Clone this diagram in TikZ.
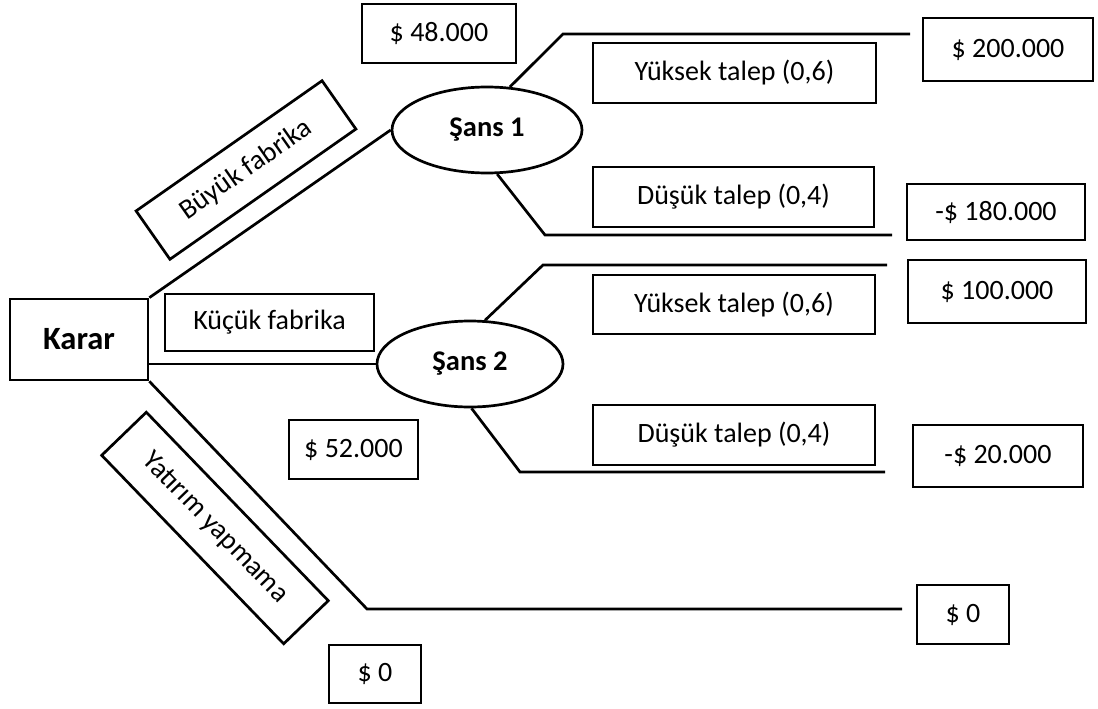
\documentclass[tikz,border=0pt]{standalone}
\usepackage{fontspec}
\setmainfont{Carlito}
\usetikzlibrary{shapes.geometric}
\begin{document}
\begin{tikzpicture}[x=1pt,y=-1pt,
  line width=2.7pt,
  lbl/.style={draw, rectangle, inner sep=0pt, align=center,
    font=\fontsize{28}{33}\selectfont},
  chance/.style={draw, ellipse, inner sep=0pt,
    font=\fontsize{28.5}{33}\selectfont\bfseries},
  branch/.style={line width=2.7pt}]
\useasboundingbox (0,0) rectangle (1098,709);

% decision node and alternative labels
\node[lbl, minimum width=138pt, minimum height=81pt,
      font=\fontsize{32.5}{38}\selectfont\bfseries] (karar) at (79,339.5) {Karar};
\node[lbl, minimum width=209pt, minimum height=57pt] (kucuk) at (269.5,322.5) {Küçük fabrika};
\node[lbl, minimum width=227pt, minimum height=59pt, rotate=35] (buyuk) at (246,170) {Büyük fabrika};
\node[lbl, minimum width=262pt, minimum height=62pt, rotate=-46] (yatirim) at (215,528) {Yatırım yapmama};

% expected values
\node[lbl, minimum width=154pt, minimum height=59pt] (ev1) at (439,33.5) {\$ 48.000};
\node[lbl, minimum width=129pt, minimum height=59pt] (ev2) at (353.5,449.5) {\$ 52.000};
\node[lbl, minimum width=92pt, minimum height=58pt] (ev3) at (375,674) {\$ 0};

% chance nodes
\node[chance, minimum width=190pt, minimum height=86pt] (s1) at (487,130) {Şans 1};
\node[chance, minimum width=186pt, minimum height=86pt] (s2) at (470,364) {Şans 2};

% outcome labels
\node[lbl, minimum width=283pt, minimum height=60pt] (y1) at (734.5,73) {Yüksek talep (0,6)};
\node[lbl, minimum width=281pt, minimum height=60pt] (d1) at (733.5,197) {Düşük talep (0,4)};
\node[lbl, minimum width=282pt, minimum height=59pt] (y2) at (734,304.5) {Yüksek talep (0,6)};
\node[lbl, minimum width=282pt, minimum height=60pt] (d2) at (734,435) {Düşük talep (0,4)};

% payoffs
\node[lbl, minimum width=170pt, minimum height=63pt] (v200) at (1008,49.5) {\$ 200.000};
\node[lbl, minimum width=178pt, minimum height=56pt] (v180) at (996,212) {-\$ 180.000};
\node[lbl, minimum width=178pt, minimum height=63pt] (v100) at (997,291.5) {\$ 100.000};
\node[lbl, minimum width=170pt, minimum height=62pt] (v20) at (998,456) {-\$ 20.000};
\node[lbl, minimum width=92pt, minimum height=59pt] (v0) at (963,614.5) {\$ 0};

% bends and free ends of the branches
\coordinate (b1) at (563,34);   \coordinate (e1) at (910,34);
\coordinate (b2) at (545,235);  \coordinate (e2) at (892,235);
\coordinate (b3) at (543,265);  \coordinate (e3) at (887,265);
\coordinate (b4) at (520,472);  \coordinate (e4) at (885,472);
\coordinate (b5) at (367,609);  \coordinate (e5) at (902,609);

% branches
\draw[branch] (karar.north east) -- (s1.west);
\draw[branch] (karar.east |- s2.west) -- (s2.west);
\draw[branch] (karar.south east) -- (b5) -- (e5);
\draw[branch] (s1.62) -- (b1) -- (e1);
\draw[branch] (s1.-77) -- (b2) -- (e2);
\draw[branch] (s2.71) -- (b3) -- (e3);
\draw[branch] (s2.-88) -- (b4) -- (e4);
\end{tikzpicture}
\end{document}
